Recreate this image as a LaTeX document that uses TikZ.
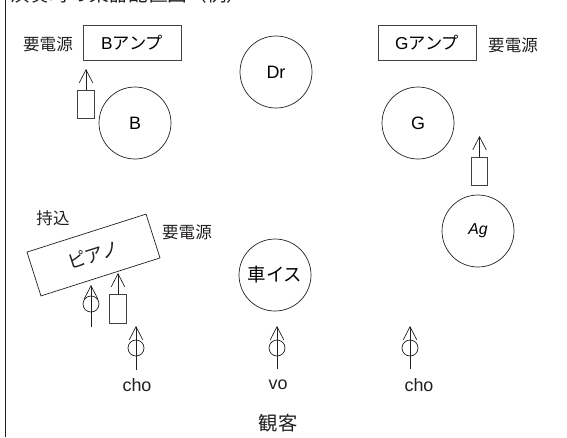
\documentclass[tikz,border=0pt]{standalone}
\usepackage{fontspec}
\setmainfont{Liberation Sans}
\newfontfamily\jpfont{Noto Sans CJK JP}
\usetikzlibrary{arrows.meta}
\definecolor{ink}{HTML}{231F20}
\tikzset{
 inst/.style={circle,draw=ink,minimum size=1.44cm,inner sep=0pt,font=\fontsize{10.2}{12}\selectfont},
 amp/.style={draw=ink!85,minimum width=1.96cm,minimum height=0.7cm,inner sep=0pt,font=\jpfont\fontsize{9.8}{12}\selectfont},
 cab/.style={draw=ink!85,minimum width=0.33cm,minimum height=0.57cm,inner sep=0pt},
 mic/.style={circle,draw=ink,minimum size=0.32cm,inner sep=0pt},
 jp/.style={text=ink,inner sep=0pt,font=\jpfont\fontsize{9.4}{12}\selectfont},
 lab/.style={text=ink,inner sep=0pt,font=\fontsize{10.2}{12}\selectfont},
}
\begin{document}
\begin{tikzpicture}[x=0.02cm,y=-0.02cm,>={Straight Barb[length=0.26cm,width=0.27cm]},thin,draw=ink]
 \useasboundingbox (0,0) rectangle (567,437);
 \node[jp,anchor=west,font=\jpfont\fontsize{11.2}{12}\selectfont] (title) at (10,-6) {演奏時の楽器配置図（例）};
 \coordinate (ltop) at (5.5,0);
 \coordinate (lbot) at (5.5,437);
 \draw (ltop) -- (lbot);

 % amps
 \node[amp] (bamp) at (132,42.5) {\textrm{B}アンプ};
 \node[amp] (gamp) at (427,42.5) {\textrm{G}アンプ};
 \node[jp] (bpow) at (48,44) {要電源};
 \node[jp] (gpow) at (513,45) {要電源};

 % players
 \node[inst] (dr) at (276,72) {\raisebox{-0.6pt}{Dr}};
 \node[inst] (b) at (135,123) {\raisebox{-1.3pt}{B}};
 \node[inst] (g) at (418,123) {\raisebox{-1.3pt}{G}};
 \node[inst,font=\fontsize{9}{12}\selectfont] (ag) at (478,231) {\itshape Ag};
 \node[inst,font=\jpfont\fontsize{10.5}{12}\selectfont] (wc) at (275,275) {車イス};

 % cabs
 \node[cab] (bcab) at (86,104.5) {};
 \coordinate (bhead) at (86,69);
 \draw[->] (bcab) -- (bhead);
 \node[cab] (gcab) at (479.5,171.5) {};
 \coordinate (ghead) at (479.5,136);
 \draw[->] (gcab) -- (ghead);
 \node[cab] (pcab) at (118,309) {};
 \coordinate (phead) at (118,273);
 \draw[->] (pcab) -- (phead);

 % piano
 \node[draw=ink,text=ink,rotate=17.7,minimum width=2.5cm,minimum height=0.92cm,inner sep=0pt,font=\jpfont\fontsize{10.5}{12}\selectfont] (piano) at (93.5,255) {ピアノ};
 \node[jp] (bring) at (53,218) {持込};
 \node[jp] (ppow) at (187,232) {要電源};

 % mics
 \foreach \n/\x/\yt/\ym/\yb in {mp/91/285/304/327,ml/136/326/348/370,mv/277/326/348/369,mr/410/326/348/369}{
  \node[mic] (\n) at (\x,\ym) {};
  \coordinate (\n t) at (\x,\yt);
  \coordinate (\n b) at (\x,\yb);
  \draw[->] (\n b) -- (\n t);
 }

 \node[lab] (chol) at (137,385) {cho};
 \node[lab] (vo) at (278,385) {vo};
 \node[lab] (chor) at (419,385) {cho};
 \node[jp,font=\jpfont\fontsize{11}{12}\selectfont] (aud) at (278,423) {観客};
\end{tikzpicture}
\end{document}
